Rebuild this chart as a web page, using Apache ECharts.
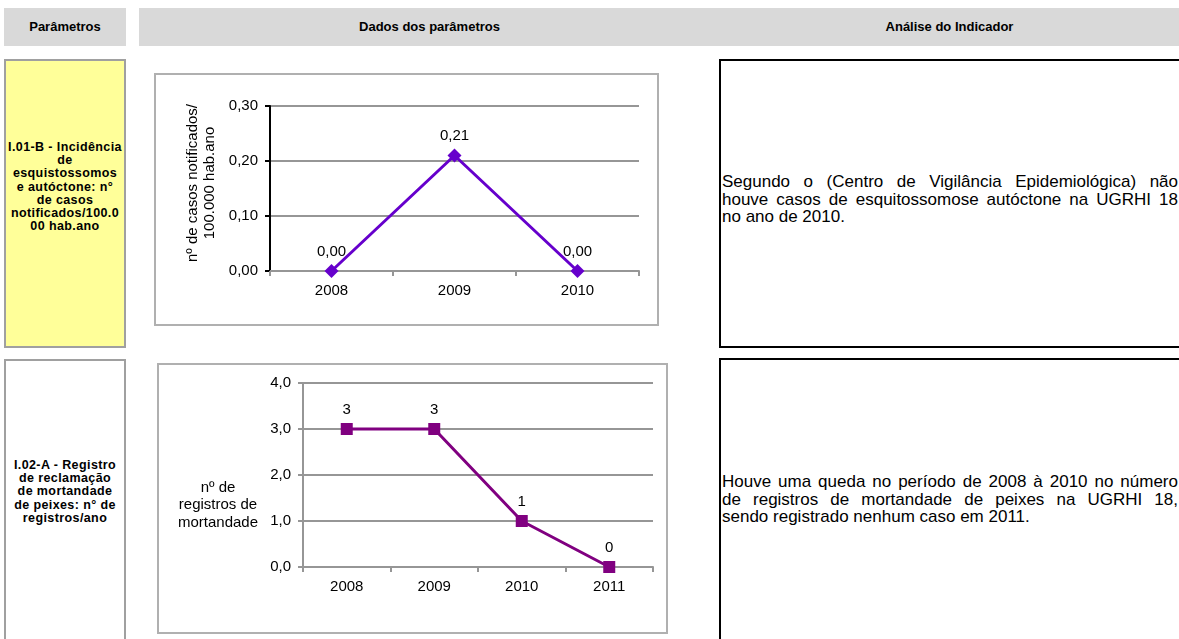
<!DOCTYPE html>
<html>
<head>
<meta charset="utf-8">
<script src="https://cdn.jsdelivr.net/npm/echarts@6/dist/echarts.min.js"></script>
<style>
  html, body { margin:0; padding:0; background:#fff; }
  body { width:1179px; height:639px; position:relative; overflow:hidden; font-family:"Liberation Sans", Arial, sans-serif; color:#000; }
  .abs { position:absolute; box-sizing:border-box; }
  .hdr { background:#d9d9d9; }
  .hdrtxt { font-weight:bold; font-size:13px; line-height:38px; text-align:center; top:8px; height:38px; }
  .param { border:2px solid #a0a0a0; }
  .ptxt { font-weight:bold; font-size:12.5px; line-height:13.2px; letter-spacing:0.4px; text-align:center; left:4px; width:122px; }
  .cbox { border:2px solid #b0b0b0; pointer-events:none; }
  .tbox { border:2px solid #000; border-right:none; }
  .ttxt { font-size:17px; line-height:17.6px; left:722px; width:456px; }
  .ttxt div { text-align:justify; text-align-last:justify; white-space:nowrap; }
  .ttxt div.last { text-align:left; text-align-last:left; }
</style>
</head>
<body>
<!-- header -->
<div class="abs hdr" style="left:4px;top:8px;width:122px;height:38px;"></div>
<div class="abs hdr" style="left:139px;top:8px;width:1040px;height:38px;"></div>
<div class="abs hdrtxt" style="left:4px;width:122px;">Parâmetros</div>
<div class="abs hdrtxt" style="left:139px;width:581px;">Dados dos parâmetros</div>
<div class="abs hdrtxt" style="left:720px;width:459px;">Análise do Indicador</div>

<!-- parameter boxes -->
<div class="abs param" style="left:4px;top:59px;width:122px;height:289px;background:#ffff99;"></div>
<div class="abs ptxt" style="top:141px;">I.01-B - Incidência<br>de<br>esquistossomos<br>e autóctone: n°<br>de casos<br>notificados/100.0<br>00 hab.ano</div>
<div class="abs param" style="left:4px;top:359px;width:122px;height:290px;background:#fff;"></div>
<div class="abs ptxt" style="top:459px;">I.02-A - Registro<br>de reclamação<br>de mortandade<br>de peixes: n° de<br>registros/ano</div>

<!-- charts -->
<div id="c1" class="abs" style="left:154px;top:73px;width:505px;height:253px;"></div>
<div class="abs cbox" style="left:154px;top:73px;width:505px;height:253px;"></div>
<div id="c2" class="abs" style="left:157px;top:363px;width:511px;height:271px;"></div>
<div class="abs cbox" style="left:157px;top:363px;width:511px;height:271px;"></div>

<!-- analysis boxes -->
<div class="abs tbox" style="left:719px;top:59px;width:470px;height:289px;"></div>
<div class="abs ttxt" style="top:173px;">
  <div>Segundo o (Centro de Vigilância Epidemiológica) não</div>
  <div>houve casos de esquitossomose autóctone na UGRHI 18</div>
  <div class="last">no ano de 2010.</div>
</div>
<div class="abs tbox" style="left:719px;top:358px;width:470px;height:290px;"></div>
<div class="abs ttxt" style="top:473px;">
  <div>Houve uma queda no período de 2008 à 2010 no número</div>
  <div>de registros de mortandade de peixes na UGRHI 18,</div>
  <div class="last">sendo registrado nenhum caso em 2011.</div>
</div>

<script>
// ---- data ----
const years1 = ['2008', '2009', '2010'];
const casos = [0.00, 0.21, 0.00];
const yTitle1 = 'nº de casos notificados/\n100.000 hab.ano';
const y1Min = 0, y1Max = 0.30, y1Step = 0.10;

const years2 = ['2008', '2009', '2010', '2011'];
const registros = [3, 3, 1, 0];
const yTitle2 = 'nº de\nregistros de\nmortandade';
const y2Min = 0, y2Max = 4, y2Step = 1;

// ---- helpers ----
const FONT = 'Liberation Sans';
const comma = (v, d) => Number(v).toFixed(d).replace('.', ',');
const GRID_GRAY = '#969696';

const c1 = echarts.init(document.getElementById('c1'), null, { renderer: 'canvas' });
c1.setOption({
  animation: false,
  textStyle: { fontFamily: FONT },
  grid: { left: 116, right: 20, top: 33, bottom: 55, containLabel: false },
  xAxis: {
    type: 'category', data: years1, boundaryGap: true,
    axisLine: { lineStyle: { color: GRID_GRAY, width: 2 } },
    axisTick: { show: true, length: 5, lineStyle: { color: GRID_GRAY, width: 2 } },
    axisLabel: { color: '#000', fontSize: 15, margin: 12, fontFamily: FONT },
    splitLine: { show: false }
  },
  yAxis: {
    type: 'value', min: y1Min, max: y1Max, interval: y1Step,
    name: yTitle1, nameLocation: 'middle', nameRotate: 90, nameGap: 47,
    nameTextStyle: { color: '#000', fontSize: 15, lineHeight: 17, fontFamily: FONT, padding: [0, 0, 0, 11] },
    axisLine: { show: true, lineStyle: { color: '#000', width: 2 } },
    axisTick: { show: true, length: 5, lineStyle: { color: '#000', width: 2 } },
    axisLabel: { color: '#000', fontSize: 15, margin: 12, fontFamily: FONT, formatter: v => comma(v, 2) },
    splitLine: { show: true, lineStyle: { color: GRID_GRAY, width: 2 } }
  },
  series: [{
    type: 'line', data: casos,
    symbol: 'diamond', symbolSize: 14,
    lineStyle: { color: '#6600cc', width: 3 },
    itemStyle: { color: '#6600cc' },
    label: { show: true, position: 'top', distance: 5, color: '#000', fontSize: 15, fontFamily: FONT,
      formatter: p => comma(p.value, 2) }
  }]
});

const c2 = echarts.init(document.getElementById('c2'), null, { renderer: 'canvas' });
c2.setOption({
  animation: false,
  textStyle: { fontFamily: FONT },
  grid: { left: 146, right: 15, top: 20, bottom: 67, containLabel: false },
  graphic: [{
    type: 'text', x: 61, y: 142, silent: true,
    style: { text: yTitle2, fill: '#000', fontSize: 15, fontFamily: FONT, lineHeight: 17.5,
      align: 'center', textAlign: 'center', verticalAlign: 'middle', textVerticalAlign: 'middle' }
  }],
  xAxis: {
    type: 'category', data: years2, boundaryGap: true,
    axisLine: { lineStyle: { color: GRID_GRAY, width: 2 } },
    axisTick: { show: true, length: 5, lineStyle: { color: GRID_GRAY, width: 2 } },
    axisLabel: { color: '#000', fontSize: 15, margin: 12, fontFamily: FONT },
    splitLine: { show: false }
  },
  yAxis: {
    type: 'value', min: y2Min, max: y2Max, interval: y2Step,
    axisLine: { show: true, lineStyle: { color: GRID_GRAY, width: 2 } },
    axisTick: { show: true, length: 5, lineStyle: { color: GRID_GRAY, width: 2 } },
    axisLabel: { color: '#000', fontSize: 15, margin: 12, fontFamily: FONT, formatter: v => comma(v, 1) },
    splitLine: { show: true, lineStyle: { color: GRID_GRAY, width: 2 } }
  },
  series: [{
    type: 'line', data: registros,
    symbol: 'rect', symbolSize: 12,
    lineStyle: { color: '#800080', width: 3 },
    itemStyle: { color: '#800080' },
    label: { show: true, position: 'top', distance: 6, color: '#000', fontSize: 15, fontFamily: FONT,
      formatter: p => String(p.value) }
  }]
});
</script>
</body>
</html>
